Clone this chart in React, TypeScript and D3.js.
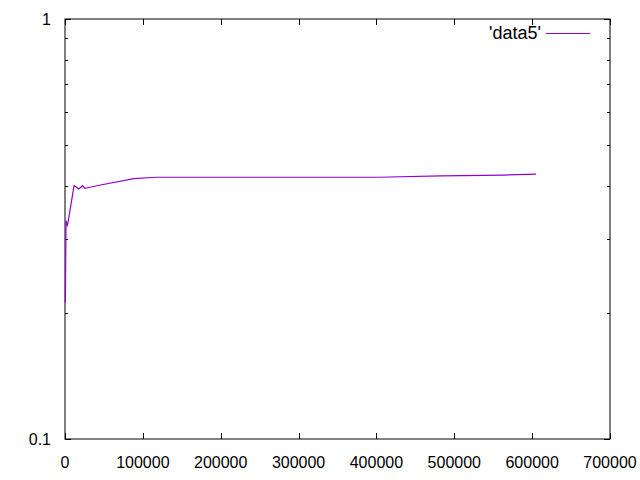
import React, { useEffect, useRef } from "react";
import * as d3 from "d3";

// values
const xValues = [500, 1300, 3000, 4000, 11600, 13700, 17600, 22700, 25300, 30800, 44000, 88600, 117000, 402000, 483000, 564000, 605000];
const yValues = [0.211, 0.331, 0.323, 0.329, 0.401, 0.399, 0.394, 0.401, 0.395, 0.397, 0.402, 0.417, 0.42, 0.42, 0.423, 0.425, 0.427];
const xTicks = [0, 100000, 200000, 300000, 400000, 500000, 600000, 700000];
const yTicks = [0.1, 1];
const yMinorTicks = [0.2, 0.3, 0.4, 0.5, 0.6, 0.7, 0.8, 0.9];
const seriesName = "'data5'";

export default function App() {
  const ref = useRef<SVGSVGElement>(null);

  useEffect(() => {
    const margin = { top: 19, right: 30, bottom: 41, left: 65 };
    const width = 640, height = 480;
    const w = width - margin.left - margin.right;
    const h = height - margin.top - margin.bottom;

    const svg = d3.select(ref.current);
    svg.selectAll("*").remove();
    const g = svg.append("g").attr("transform", `translate(${margin.left},${margin.top})`);

    const x = d3.scaleLinear().domain([0, 700000]).range([0, w]);
    const y = d3.scaleLog().domain([0.1, 1]).range([h, 0]);

    const font = "'Liberation Sans', Arial, sans-serif";

    // border
    g.append("rect").attr("x", 0).attr("y", 0).attr("width", w).attr("height", h)
      .attr("fill", "none").attr("stroke", "#000").attr("stroke-width", 1);

    const tickG = g.append("g").attr("stroke", "#000").attr("stroke-width", 1);
    // x ticks bottom + mirrored top
    xTicks.forEach(t => {
      const px = Math.round(x(t)) + 0.5;
      tickG.append("line").attr("x1", px).attr("x2", px).attr("y1", h).attr("y2", h - 6);
      tickG.append("line").attr("x1", px).attr("x2", px).attr("y1", 0).attr("y2", 6);
    });
    // y ticks left + mirrored right
    yTicks.forEach(t => {
      const py = Math.round(y(t)) + 0.5;
      tickG.append("line").attr("x1", 0).attr("x2", 6).attr("y1", py).attr("y2", py);
      tickG.append("line").attr("x1", w).attr("x2", w - 6).attr("y1", py).attr("y2", py);
    });
    yMinorTicks.forEach(t => {
      const py = Math.round(y(t)) + 0.5;
      tickG.append("line").attr("x1", 0).attr("x2", 3).attr("y1", py).attr("y2", py);
      tickG.append("line").attr("x1", w).attr("x2", w - 3).attr("y1", py).attr("y2", py);
    });

    // tick labels
    g.append("g").selectAll("text").data(xTicks).join("text")
      .attr("x", d => x(d)).attr("y", h + 29)
      .attr("text-anchor", "middle")
      .attr("font-family", font).attr("font-size", 16)
      .text(d => String(d));

    g.append("g").selectAll("text").data(yTicks).join("text")
      .attr("x", -14).attr("y", d => y(d) + 6)
      .attr("text-anchor", "end")
      .attr("font-family", font).attr("font-size", 16)
      .text(d => String(d));

    // series line
    const data = xValues.map((v, i) => [v, yValues[i]] as [number, number]);
    const line = d3.line<[number, number]>().x(d => x(d[0])).y(d => y(d[1]));
    g.append("path").datum(data).attr("d", line)
      .attr("fill", "none").attr("stroke", "#9400d3").attr("stroke-width", 1.2);

    // legend
    g.append("text").attr("x", 476).attr("y", 20)
      .attr("text-anchor", "end")
      .attr("font-family", font).attr("font-size", 18)
      .text(seriesName);
    g.append("line").attr("x1", 481).attr("x2", 525).attr("y1", 14.5).attr("y2", 14.5)
      .attr("stroke", "#9400d3").attr("stroke-width", 1.2);
  }, []);

  return (
    <svg ref={ref} width={640} height={480}
      style={{ position: "absolute", left: 0, top: 0, background: "#fff" }} />
  );
}
